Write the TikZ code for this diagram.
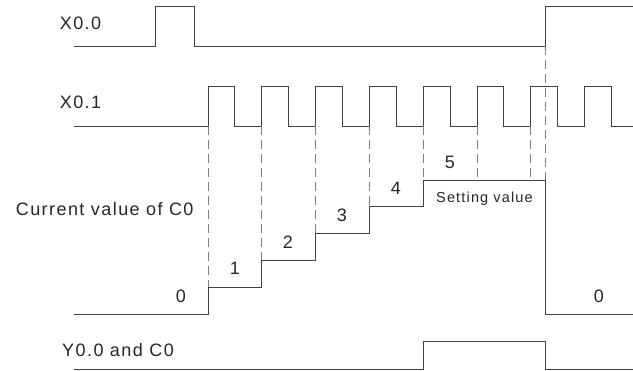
\documentclass[tikz,border=0pt]{standalone}
\usepackage{fontspec}
\setmainfont{Liberation Sans}[LetterSpace=8]
\definecolor{wave}{gray}{0.25}
\definecolor{guide}{gray}{0.5}

\begin{document}
\begin{tikzpicture}[x=1pt,y=-1pt,
  sig/.style={draw=wave,line width=0.9pt},
  guideline/.style={draw=guide,line width=0.8pt,dash pattern=on 9pt off 5pt},
  lbl/.style={text=black!85,inner sep=0pt,font=\fontsize{18}{20}\selectfont},
  small lbl/.style={text=black!85,inner sep=0pt,font=\fontsize{14.5}{16}\selectfont}]
\useasboundingbox (0,0) rectangle (633,371);

% X0.0
\node[lbl] (x00) at (80.5,23) {X0.0};
\draw[sig] (74,46) -- (155,46) -- (155,6) -- (194,6) -- (194,46) -- (545,46) -- (545,6) -- (633,6);

% X0.1
\node[lbl] (x01) at (80.5,102) {X0.1};
\draw[sig] (74,126) -- (208,126);
\foreach \i in {0,...,6}
  \draw[sig] ({208+53.8*\i},126) -- ({208+53.8*\i},86) -- ({234.9+53.8*\i},86) -- ({234.9+53.8*\i},126) -- ({261.8+53.8*\i},126);
\draw[sig] (584.6,126) -- (584.6,86) -- (611.5,86) -- (611.5,126) -- (633,126);

% current value of C0
\node[lbl] (cv) at (104.7,209) {Current value of C0};
\draw[sig] (74,314) -- (208,314) -- (208,287.2) -- (261.8,287.2) -- (261.8,260.4) -- (315.6,260.4)
  -- (315.6,233.6) -- (369.4,233.6) -- (369.4,206.8) -- (423.2,206.8) -- (423.2,180) -- (545,180)
  -- (545,314) -- (633,314);
\foreach \k in {1,...,5}
  \draw[guideline] ({208+53.8*(\k-1)},126) -- ({208+53.8*(\k-1)},{314-26.8*\k});
\foreach \x in {477,530.8}
  \draw[guideline] (\x,126) -- (\x,180);
\draw[guideline] (545,46) -- (545,180);

\node[lbl] (c0) at (181,296) {0};
\node[lbl] (c1) at (235,268) {1};
\node[lbl] (c2) at (288,242) {2};
\node[lbl] (c3) at (342,215) {3};
\node[lbl] (c4) at (396,188) {4};
\node[lbl] (c5) at (450,162) {5};
\node[small lbl] (set) at (484.5,199) {Setting value};
\node[lbl] (c0b) at (599,296) {0};

% Y0.0 and C0
\node[lbl] (y00) at (118,350) {Y0.0 and C0};
\draw[sig] (74,369) -- (423.2,369) -- (423.2,341) -- (545,341) -- (545,369) -- (633,369);
\end{tikzpicture}
\end{document}
